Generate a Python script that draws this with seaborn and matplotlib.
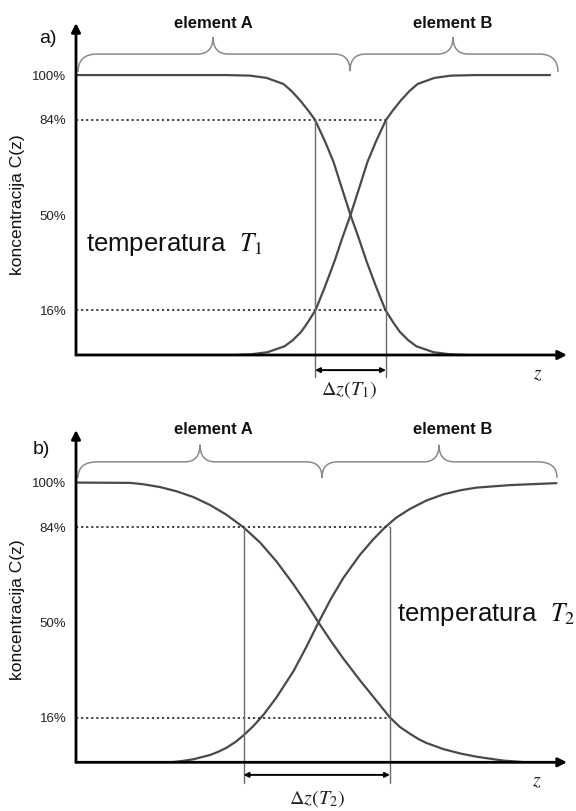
import numpy as np
import pandas as pd
import matplotlib
matplotlib.use("Agg")
import matplotlib.pyplot as plt
from matplotlib.path import Path
from matplotlib.patches import PathPatch
import seaborn as sns

sns.set_theme(style="white")
plt.rcParams['font.family'] = ['Liberation Sans', 'DejaVu Sans']
plt.rcParams['mathtext.fontset'] = 'stix'

# ---------------- data ----------------
# panel a (temperature T1): concentration C(z) in %, z in arbitrary units
za_A = [0, 30, 34.8, 38.1, 41.5, 43.1, 44.8, 46.5, 47.8, 49.8, 51.5, 53.1, 54.9,
        56.5, 58.1, 60.1, 61.9, 63.5, 64.8, 66.5, 68.1, 71.5, 74.8, 78.1]
ca_A = [100, 100, 99.8, 99, 96.8, 94.3, 91, 87.2, 84, 76.3, 69, 60, 50,
        42, 33.5, 24, 16, 11.5, 8.2, 5.2, 3.1, 1.0, 0.25, 0]
za_B = [0, 31.7, 35.0, 38.3, 41.7, 43.3, 45.0, 46.3, 47.9, 49.7, 51.7, 53.3, 54.9,
        56.7, 58.3, 60.0, 62.0, 63.3, 65.0, 66.7, 68.3, 71.7, 75.0, 80.0, 94.8]
ca_B = [0, 0, 0.25, 1.0, 3.1, 5.2, 8.2, 11.5, 16, 24, 33.5, 42, 50,
        60, 69, 76.3, 84, 87.2, 91, 94.3, 96.8, 99, 99.8, 100, 100]

# panel b (temperature T2)
zb_A = [0, 10.8, 13.5, 16.8, 20.1, 23.5, 26.8, 30.1, 33.5, 36.8, 40.1, 43.5, 46, 48.5,
        51, 53.5, 56.8, 60.1, 62.8, 64.8, 66.8, 68.5, 70.1, 73.5, 77, 80.1, 85.5, 90.1]
cb_A = [100, 99.9, 99.4, 98.4, 96.9, 94.8, 92.0, 88.5, 84, 78.6, 71.8, 63.6, 57.0, 50,
        43.3, 37.0, 29.3, 22.0, 16, 12.6, 10.2, 8.3, 6.9, 4.7, 3.1, 2.0, 0.6, 0]
zb_B = [0, 18.8, 21, 23.5, 26.8, 28.5, 30.1, 32, 33.6, 35.5, 37.5, 40.1, 43.5, 46, 48.5,
        51, 53.5, 56.8, 59.5, 61.8, 64, 66.8, 70.1, 73.5, 77, 80.1, 86.8, 96.1]
cb_B = [0, 0, 0.4, 1.1, 2.6, 3.8, 5.2, 7.4, 9.8, 13.0, 17.0, 23.2, 32.6, 41.0, 50,
        58.5, 66.0, 74.2, 79.8, 84, 87.4, 90.6, 93.6, 95.8, 97.3, 98.2, 99.1, 99.8]

tick_vals = [100, 84, 50, 16]
tick_labels = ["100%", "84%", "50%", "16%"]
dz_a = [47.8, 62.0]   # z at 84% / 16% crossings, panel a
dz_b = [33.5, 62.8]   # panel b
y_label = "koncentracija C(z)"
elements = ["element A", "element B"]

# ---------------- figure ----------------
W, H = 576, 811
fig = plt.figure(figsize=(W / 100, H / 100), dpi=100)
fig.patch.set_facecolor("white")

X_MAX = 98.2
def make_ax(top_px, base_px, ytop):
    ax = fig.add_axes([76 / W, 1 - base_px / H, (567 - 76) / W, (base_px - top_px) / H])
    ax.set_xlim(0, X_MAX)
    ax.set_ylim(0, ytop)
    for s in ax.spines.values():
        s.set_visible(False)
    ax.set_facecolor("none")
    return ax

ax_a = make_ax(23, 355, 118.6)
ax_b = make_ax(430, 762.3, 118.8)

CURVE = "#4a4a4a"

def brace(ax, x0, x1, ups, down, y_line, y_end, y_up, y_down, w_end=3.8, w_c=3.1):
    verts = [(x0, y_end), (x0, y_line), (x0 + w_end, y_line)]
    codes = [Path.MOVETO, Path.CURVE3, Path.CURVE3]
    feats = sorted([(u, y_up) for u in ups] + [(down, y_down)])
    for xc, yt in feats:
        verts += [(xc - w_c, y_line), (xc, y_line), (xc, yt), (xc, y_line), (xc + w_c, y_line)]
        codes += [Path.LINETO, Path.CURVE3, Path.CURVE3, Path.CURVE3, Path.CURVE3]
    verts += [(x1 - w_end, y_line), (x1, y_line), (x1, y_end)]
    codes += [Path.LINETO, Path.CURVE3, Path.CURVE3]
    ax.add_patch(PathPatch(Path(verts, codes), fill=False, edgecolor="#8a8a8a",
                           lw=1.1, clip_on=False))

def panel(ax, zA, cA, zB, cB, dz, ytop, letter, letter_xy, elem_x, brace_args,
          temp_xy, temp_txt, dz_label_xy, dz_label, arrow_y, vline_bottom, z_xy, ylab_y):
    df = pd.concat([
        pd.DataFrame({"z": zA, "C": cA, "element": "A"}),
        pd.DataFrame({"z": zB, "C": cB, "element": "B"}),
    ])
    sns.lineplot(data=df, x="z", y="C", hue="element",
                 palette={"A": CURVE, "B": CURVE}, legend=False,
                 estimator=None, sort=False, lw=1.6, ax=ax)
    ax.set_xlabel("")
    ax.set_ylabel("")
    # dotted guide lines at 84% and 16%
    for lev in (84, 16):
        ax.plot([0, dz[1]], [lev, lev], ls=(0, (1.2, 1.6)), color="#333333", lw=1.3,
                clip_on=False)
    # vertical lines
    for zv in dz:
        ax.plot([zv, zv], [84, vline_bottom], color="#6a6a6a", lw=1.0, clip_on=False)
    # Δz arrow
    ax.annotate("", xy=(dz[1], arrow_y), xytext=(dz[0], arrow_y),
                arrowprops=dict(arrowstyle="<|-|>", color="black", lw=1.4,
                                mutation_scale=7, shrinkA=0, shrinkB=0),
                annotation_clip=False)
    ax.text(dz_label_xy[0], dz_label_xy[1], dz_label, fontsize=14.5, ha="center",
            va="center", color="#222222")
    # axes arrows
    ax.annotate("", xy=(0, ytop), xytext=(0, 0),
                arrowprops=dict(arrowstyle="-|>", color="black", lw=2.0,
                                mutation_scale=13, shrinkA=0, shrinkB=0),
                annotation_clip=False)
    ax.annotate("", xy=(X_MAX, 0), xytext=(0, 0),
                arrowprops=dict(arrowstyle="-|>", color="black", lw=2.0,
                                mutation_scale=13, shrinkA=0, shrinkB=0),
                annotation_clip=False)
    ax.text(z_xy[0], z_xy[1], "$z$", fontsize=14, ha="center", va="center",
            color="#222222")
    # ticks
    ax.set_xticks([])
    ax.set_yticks(tick_vals)
    ax.set_yticklabels(tick_labels)
    ax.tick_params(axis="y", length=0, pad=7, labelsize=9.5, labelcolor="#222222")
    # y label
    ax.text(-11.6, ylab_y, y_label, rotation=90, fontsize=12.5, ha="center",
            va="center", color="#111111")
    # panel letter
    ax.text(letter_xy[0], letter_xy[1], letter, fontsize=14, ha="center", va="center",
            color="#111111")
    # element labels
    for ex, et in zip(elem_x, elements):
        ax.text(ex, ytop, et, fontsize=12, fontweight="bold", ha="center",
                va="center", color="#111111")
    brace(ax, **brace_args)
    # temperature text
    ax.text(temp_xy[0], temp_xy[1], temp_txt, fontsize=18.5, ha="left", va="center",
            color="#111111")

panel(ax_a, za_A, ca_A, za_B, ca_B, dz_a, 118.6, "a)", (-5.6, 113.2), (27.4, 75.4),
      dict(x0=0.4, x1=96.4, ups=[27.4, 75.4], down=54.8, y_line=107.5, y_end=101.1,
           y_up=113.6, y_down=101.4),
      (2.0, 39.3), r"temperatura  $T_1$", (54.6, -12.5), r"$\Delta z(T_1)$",
      -5.4, -7.9, (92.4, -7.1), 53.6)

panel(ax_b, zb_A, cb_A, zb_B, cb_B, dz_b, 118.8, "b)", (-7.0, 111.7), (27.4, 75.4),
      dict(x0=0.4, x1=96.2, ups=[24.8, 72.6], down=49.2, y_line=107.4, y_end=101.7,
           y_up=113.5, y_down=101.7),
      (64.2, 52.7), r"temperatura  $T_2$", (48.2, -12.9), r"$\Delta z(T_2)$",
      -4.5, -7.4, (92.2, -7.0), 54.5)

fig.savefig("out.png", dpi=100, facecolor="white")
